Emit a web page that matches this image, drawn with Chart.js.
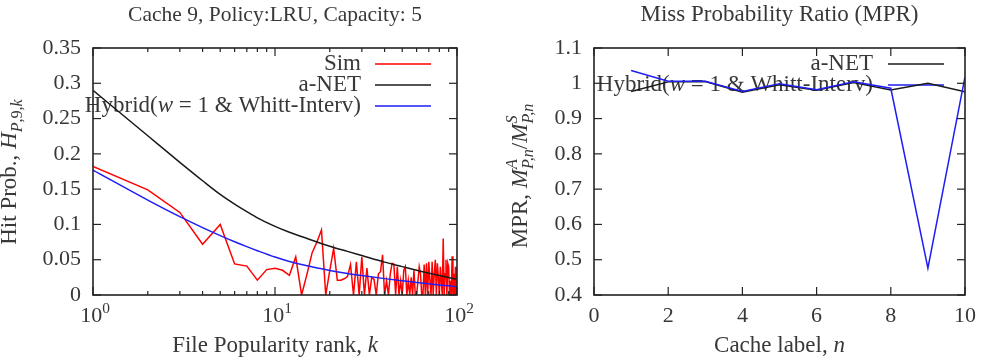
<!DOCTYPE html>
<html>
<head>
<meta charset="utf-8">
<script src="https://cdn.jsdelivr.net/npm/chart.js@4"></script>
<style>
  html, body { margin: 0; padding: 0; background: #fff; }
  #wrap { position: relative; width: 984px; height: 361px; }
  .box { position: absolute; top: 0; height: 361px; }
</style>
</head>
<body>
<div id="wrap">
  <div class="box" style="left:0;width:490px"><canvas id="hit"></canvas></div>
  <div class="box" style="left:490px;width:494px"><canvas id="mpr"></canvas></div>
</div>
<script>
const FAM = '"Liberation Serif", "Times New Roman", serif';
const TXT = "#383838";
const FS = 23;      // legend and axis titles
const TICK_FS = 22; // tick labels

// ---- left panel: hit probability vs popularity rank ----
const ranks = Array.from({ length: 100 }, (_, i) => i + 1);
const simHit = [
  0.182, 0.149, 0.117, 0.072, 0.100, 0.044, 0.041, 0.021, 0.036, 0.038,
  0.035, 0.028, 0.054, 0.000, 0.030, 0.060, 0.075, 0.092, 0.000, 0.035,
  0.066, 0.021, 0.021, 0.023, 0.026, 0.043, 0.000, 0.047, 0.000, 0.054,
  0.000, 0.038, 0.000, 0.025, 0.022, 0.000, 0.030, 0.033, 0.057, 0.000,
  0.020, 0.000, 0.030, 0.045, 0.044, 0.000, 0.040, 0.000, 0.020, 0.000,
  0.035, 0.040, 0.000, 0.020, 0.000, 0.025, 0.000, 0.035, 0.000, 0.000,
  0.020, 0.040, 0.030, 0.000, 0.000, 0.043, 0.000, 0.045, 0.000, 0.047,
  0.020, 0.000, 0.047, 0.000, 0.030, 0.050, 0.000, 0.045, 0.025, 0.000,
  0.040, 0.020, 0.000, 0.080, 0.000, 0.030, 0.050, 0.000, 0.045, 0.040,
  0.000, 0.020, 0.000, 0.055, 0.000, 0.030, 0.000, 0.040, 0.000, 0.040
];
const curveRanks = [1, 2, 3, 4, 5, 6, 7, 8, 10, 12, 15, 20, 25, 30, 40, 50, 60, 70, 80, 90, 100];
const aNetHit = [
  0.290, 0.2256, 0.1879, 0.1619, 0.1425, 0.1287, 0.1181, 0.1094, 0.0973, 0.0890, 0.0801,
  0.0692, 0.0618, 0.0559, 0.0466, 0.0402, 0.0350, 0.0310, 0.0277, 0.0249, 0.0223
];
const hybridHit = [
  0.177, 0.1345, 0.1110, 0.0955, 0.0842, 0.0755, 0.0685, 0.0628, 0.0538, 0.0475, 0.0413,
  0.0348, 0.0305, 0.0275, 0.0232, 0.0201, 0.0178, 0.0159, 0.0143, 0.0130, 0.0118
];
const hitTicksX = [1, 10, 100];
const hitTickExp = ["0", "1", "2"];
const hitMinorX = [2, 3, 4, 5, 6, 7, 8, 9, 20, 30, 40, 50, 60, 70, 80, 90];

// ---- right panel: miss probability ratio per cache ----
const cacheLabels = [1, 2, 3, 4, 5, 6, 7, 8, 9, 10];
const mprANet = [0.977, 1.004, 1.005, 0.975, 0.996, 0.980, 1.002, 0.981, 1.000, 0.976];
const mprHybrid = [1.036, 1.006, 1.006, 0.977, 0.999, 0.982, 1.004, 0.986, 0.476, 1.018];

Chart.defaults.font.family = FAM;
Chart.defaults.font.size = TICK_FS;
Chart.defaults.color = TXT;

function font(size, italic) {
  return (italic ? "italic " : "") + size + "px " + FAM;
}

function richWidth(ctx, segs, fs) {
  let w = 0;
  for (const s of segs) {
    ctx.font = font(fs * (s.sc || 1), s.it);
    if (!s.keep) w += ctx.measureText(s.t).width;
  }
  return w;
}

// draws a run of text pieces with italics, sub- and superscripts
function drawRich(ctx, segs, x, y, align, fs) {
  fs = fs || FS;
  const w = richWidth(ctx, segs, fs);
  let cx = align === "center" ? x - w / 2 : align === "right" ? x - w : x;
  ctx.textAlign = "left";
  ctx.textBaseline = "alphabetic";
  ctx.fillStyle = TXT;
  for (const s of segs) {
    ctx.font = font(fs * (s.sc || 1), s.it);
    ctx.fillText(s.t, cx, y + fs * (s.dy || 0));
    if (!s.keep) cx += ctx.measureText(s.t).width;
  }
}

function pts(xs, ys) {
  return xs.map((x, i) => ({ x: x, y: ys[i] }));
}

function seg(ctx, x0, y0, x1, y1) {
  ctx.beginPath();
  ctx.moveTo(x0, y0);
  ctx.lineTo(x1, y1);
  ctx.stroke();
}

const gnuplotFrame = {
  id: "gnuplotFrame",
  // texts and key go under the curves, like gnuplot does
  beforeDatasetsDraw(chart, args, opts) {
    const { ctx, chartArea: a } = chart;
    const cx = (a.left + a.right) / 2;
    ctx.save();
    drawRich(ctx, [{ t: opts.title }], cx, 21, "center", opts.titleSize);
    drawRich(ctx, opts.xTitle, cx, 352, "center");
    ctx.save();
    ctx.translate(opts.yTitleX, opts.yTitleY);
    ctx.rotate(-Math.PI / 2);
    drawRich(ctx, opts.yTitle, 0, 0, "center");
    ctx.restore();

    const lg = opts.legend;
    lg.rows.forEach((r, i) => {
      const base = lg.y0 + i * lg.dy;
      drawRich(ctx, r.segs, lg.textRight, base, "right");
      ctx.strokeStyle = r.color;
      ctx.lineWidth = 1.5;
      seg(ctx, lg.x0, base - 6, lg.x1, base - 6);
    });
    ctx.restore();
  },
  afterDatasetsDraw(chart, args, opts) {
    const { ctx, chartArea: a } = chart;
    const xs = chart.scales.x;
    const ys = chart.scales.y;
    ctx.save();
    ctx.strokeStyle = "#222";
    ctx.lineWidth = 1.2;
    for (const t of ys.ticks) {
      const py = ys.getPixelForValue(t.value);
      seg(ctx, a.left, py, a.left + 8, py);
      seg(ctx, a.right, py, a.right - 8, py);
    }
    for (const v of opts.xMajor) {
      const px = xs.getPixelForValue(v);
      seg(ctx, px, a.bottom, px, a.bottom - 8);
      seg(ctx, px, a.top, px, a.top + 8);
    }
    for (const v of opts.xMinor || []) {
      const px = xs.getPixelForValue(v);
      seg(ctx, px, a.bottom, px, a.bottom - 4);
      seg(ctx, px, a.top, px, a.top + 4);
    }
    ctx.lineWidth = 1.6;
    ctx.strokeRect(a.left, a.top, a.width, a.height);

    // log-axis labels with superscripts
    if (opts.expLabels) {
      opts.xMajor.forEach((v, i) => {
        const px = xs.getPixelForValue(v);
        drawRich(ctx, [{ t: "10" }, { t: opts.expLabels[i], sc: 0.7, dy: -0.42 }], px + 2, 322, "center", TICK_FS);
      });
    }
    ctx.restore();
  }
};

function lineSet(label, data, color, order) {
  return {
    label: label,
    data: data,
    borderColor: color,
    borderWidth: 1.5,
    pointRadius: 0,
    fill: false,
    tension: 0,
    order: order,
  };
}

const hiddenGrid = { display: false, drawTicks: false };
const hybridLabel = [{ t: "Hybrid(" }, { t: "w", it: true }, { t: " = 1 & Whitt-Interv)" }];

new Chart(document.getElementById("hit"), {
  type: "line",
  data: {
    datasets: [
      lineSet("Sim", pts(ranks, simHit), "rgb(255,0,0)", 2),
      { ...lineSet("a-NET", pts(curveRanks, aNetHit), "#1a1a1a", 1), cubicInterpolationMode: "monotone" },
      { ...lineSet("Hybrid", pts(curveRanks, hybridHit), "rgb(30,30,245)", 0), cubicInterpolationMode: "monotone" },
    ],
  },
  options: {
    responsive: true,
    maintainAspectRatio: false,
    animation: false,
    events: [],
    layout: { padding: { top: 48, right: 33, bottom: 0, left: 0 } },
    scales: {
      x: {
        type: "logarithmic",
        min: 1,
        max: 100,
        grid: hiddenGrid,
        border: { display: false },
        ticks: { display: false },
        afterFit: (s) => { s.height = 66; },
      },
      y: {
        min: 0,
        max: 0.35,
        grid: hiddenGrid,
        border: { display: false },
        ticks: { stepSize: 0.05, padding: 12, callback: (v) => String(+v.toFixed(2)) },
        afterFit: (s) => { s.width = 93; },
      },
    },
    plugins: {
      legend: { display: false },
      tooltip: { enabled: false },
      gnuplotFrame: {
        xMajor: hitTicksX,
        xMinor: hitMinorX,
        expLabels: hitTickExp,
        title: "Cache 9, Policy:LRU, Capacity: 5",
        titleSize: 21.5,
        xTitle: [{ t: "File Popularity rank, " }, { t: "k", it: true }],
        yTitle: [
          { t: "Hit Prob., " }, { t: "H", it: true },
          { t: "P", it: true, sc: 0.7, dy: 0.28 }, { t: ",9,", sc: 0.7, dy: 0.28 }, { t: "k", it: true, sc: 0.7, dy: 0.28 },
        ],
        yTitleX: 16,
        yTitleY: 172,
        legend: {
          textRight: 361, x0: 375, x1: 431, y0: 70, dy: 21,
          rows: [
            { segs: [{ t: "Sim" }], color: "rgb(255,0,0)" },
            { segs: [{ t: "a-NET" }], color: "#1a1a1a" },
            { segs: hybridLabel, color: "rgb(30,30,245)" },
          ],
        },
      },
    },
  },
  plugins: [gnuplotFrame],
});

new Chart(document.getElementById("mpr"), {
  type: "line",
  data: {
    datasets: [
      lineSet("a-NET", pts(cacheLabels, mprANet), "#1a1a1a", 1),
      lineSet("Hybrid", pts(cacheLabels, mprHybrid), "rgb(30,30,245)", 0),
    ],
  },
  options: {
    responsive: true,
    maintainAspectRatio: false,
    animation: false,
    events: [],
    layout: { padding: { top: 48, right: 14, bottom: 0, left: 0 } },
    scales: {
      x: {
        type: "linear",
        min: 0,
        max: 10,
        grid: hiddenGrid,
        border: { display: false },
        ticks: { stepSize: 2, padding: 8, maxRotation: 0, autoSkip: false },
        afterFit: (s) => { s.height = 66; },
      },
      y: {
        min: 0.4,
        max: 1.1,
        grid: hiddenGrid,
        border: { display: false },
        ticks: { stepSize: 0.1, padding: 12, callback: (v) => String(+v.toFixed(2)) },
        afterFit: (s) => { s.width = 104; },
      },
    },
    plugins: {
      legend: { display: false },
      tooltip: { enabled: false },
      gnuplotFrame: {
        xMajor: [0, 2, 4, 6, 8, 10],
        title: "Miss Probability Ratio (MPR)",
        titleSize: 23,
        xTitle: [{ t: "Cache label, " }, { t: "n", it: true }],
        yTitle: [
          { t: "MPR, " }, { t: "M", it: true },
          { t: "A", it: true, sc: 0.7, dy: -0.42, keep: true }, { t: "P,n", it: true, sc: 0.7, dy: 0.28 },
          { t: "/" }, { t: "M", it: true },
          { t: "S", it: true, sc: 0.7, dy: -0.42, keep: true }, { t: "P,n", it: true, sc: 0.7, dy: 0.28 },
        ],
        yTitleX: 37,
        yTitleY: 176,
        legend: {
          textRight: 383, x0: 398, x1: 454, y0: 70, dy: 21,
          rows: [
            { segs: [{ t: "a-NET" }], color: "#1a1a1a" },
            { segs: hybridLabel, color: "rgb(30,30,245)" },
          ],
        },
      },
    },
  },
  plugins: [gnuplotFrame],
});
</script>
</body>
</html>
